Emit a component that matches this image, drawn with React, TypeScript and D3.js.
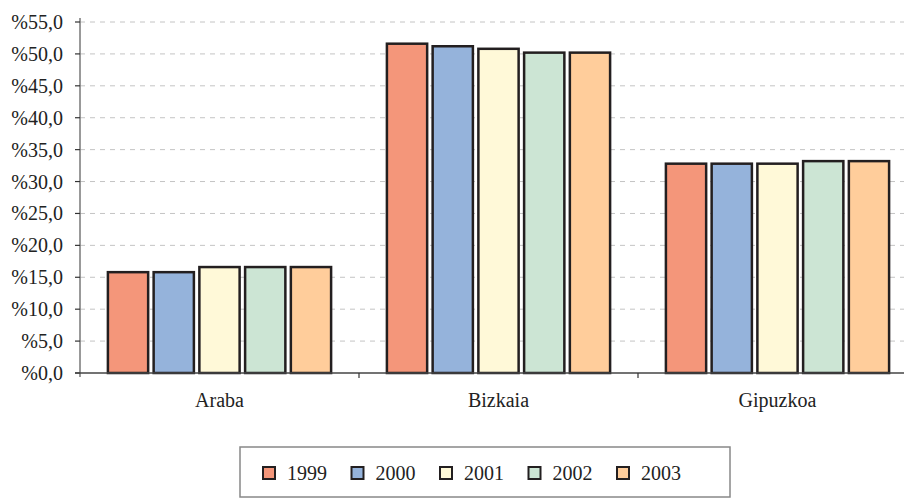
import React from "react";
import * as d3 from "d3";

const categories = ["Araba", "Bizkaia", "Gipuzkoa"];
const years = ["1999", "2000", "2001", "2002", "2003"];
const v1999 = [15.8, 51.6, 32.8];
const v2000 = [15.8, 51.2, 32.8];
const v2001 = [16.6, 50.8, 32.8];
const v2002 = [16.6, 50.2, 33.2];
const v2003 = [16.6, 50.2, 33.2];
const yTicks = [0, 5, 10, 15, 20, 25, 30, 35, 40, 45, 50, 55];
const colors = ["#F4967A", "#95B3DB", "#FFF9D8", "#CCE5D4", "#FFCD9B"];

const series = [v1999, v2000, v2001, v2002, v2003];

export default function App() {
  const W = 904;
  const H = 499;
  const left = 80;
  const right = 917;
  const top = 22;
  const bottom = 373;
  const font = "Liberation Serif";

  const y = d3.scaleLinear().domain([0, 55]).range([bottom, top]);
  const x0 = d3.scaleBand<string>().domain(categories).range([left, right]).padding(0);
  const bw = x0.bandwidth();
  const pad = bw * 0.1;
  const x1 = d3
    .scaleBand<string>()
    .domain(years)
    .range([pad, bw - pad])
    .paddingInner(0.12)
    .paddingOuter(0);

  const fmt = (v: number) => "%" + v.toFixed(1).replace(".", ",");

  const legendX = 240;
  const legendY = 447;
  const legendW = 490;
  const legendH = 50;
  const itemStep = 88.5;
  const txt = { fontFamily: font, fontSize: "20px", fill: "#222" };

  return (
    <svg width={W} height={H} style={{ position: "absolute", left: 0, top: 0, overflow: "hidden" }}>
      <rect x={0} y={0} width={W} height={H} fill="#fff" />
      {yTicks.slice(1).map((t) => (
        <line
          key={"g" + t}
          x1={left}
          x2={W}
          y1={y(t)}
          y2={y(t)}
          stroke="#c4c4c4"
          strokeWidth={1}
          strokeDasharray="5,5"
        />
      ))}
      {categories.map((c, ci) => (
        <g key={c} transform={`translate(${x0(c)},0)`}>
          {years.map((yr, si) => {
            const v = series[si][ci];
            return (
              <rect
                key={yr}
                x={x1(yr)}
                y={y(v)}
                width={x1.bandwidth()}
                height={bottom - y(v)}
                fill={colors[si]}
                stroke="#231f20"
                strokeWidth={2.5}
              />
            );
          })}
        </g>
      ))}
      <line x1={left} x2={left} y1={top - 4} y2={bottom + 4} stroke="#777" strokeWidth={1.5} />
      {yTicks.map((t) => (
        <g key={"t" + t}>
          <line x1={left - 5} x2={left} y1={y(t)} y2={y(t)} stroke="#333" strokeWidth={1.2} />
          <text x={63} y={y(t)} dy="0.35em" textAnchor="end" style={txt}>
            {fmt(t)}
          </text>
        </g>
      ))}
      <line x1={left - 5} x2={W} y1={bottom} y2={bottom} stroke="#444" strokeWidth={1.5} />
      {categories.map((c, i) =>
        i > 0 ? (
          <line
            key={"xt" + c}
            x1={x0(c)}
            x2={x0(c)}
            y1={bottom}
            y2={bottom + 5}
            stroke="#333"
            strokeWidth={1.2}
          />
        ) : null
      )}
      {categories.map((c) => (
        <text key={"xl" + c} x={(x0(c) as number) + bw / 2} y={407} textAnchor="middle" style={txt}>
          {c}
        </text>
      ))}
      <rect
        x={legendX}
        y={legendY}
        width={legendW}
        height={legendH}
        fill="#fff"
        stroke="#888"
        strokeWidth={1.5}
      />
      {years.map((yr, i) => (
        <g key={"l" + yr} transform={`translate(${263 + i * itemStep},467)`}>
          <rect x={0} y={0} width={12} height={12} fill={colors[i]} stroke="#231f20" strokeWidth={2} />
          <text x={24} y={13} style={txt}>
            {yr}
          </text>
        </g>
      ))}
    </svg>
  );
}
